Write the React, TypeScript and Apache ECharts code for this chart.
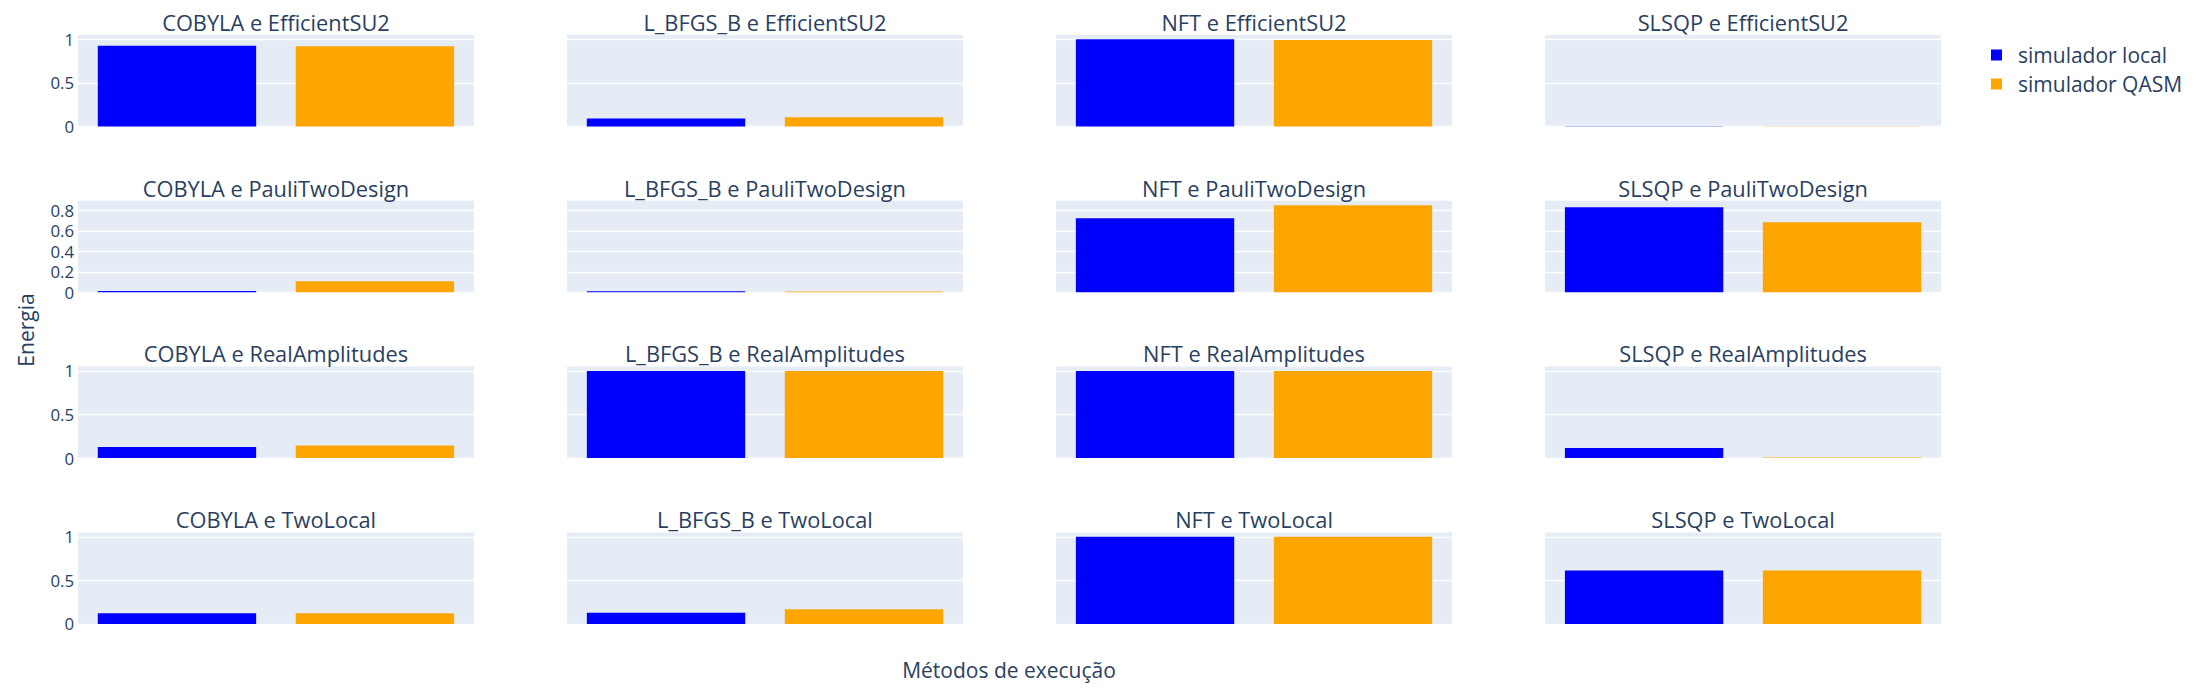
import React, { useEffect, useRef } from "react";
import * as echarts from "echarts";

// Subplot rows (ansatz) and columns (optimizer)
const optimizers = ["COBYLA", "L_BFGS_B", "NFT", "SLSQP"];
const ansatze = ["EfficientSU2", "PauliTwoDesign", "RealAmplitudes", "TwoLocal"];
const categories = ["simulador local", "simulador QASM"];

// Energy values, one entry per optimizer (COBYLA, L_BFGS_B, NFT, SLSQP)
const localEfficientSU2 = [0.927, 0.092, 1.0, 0.003];
const qasmEfficientSU2 = [0.92, 0.107, 0.992, 0.003];
const localPauliTwoDesign = [0.012, 0.01, 0.725, 0.832];
const qasmPauliTwoDesign = [0.107, 0.008, 0.852, 0.686];
const localRealAmplitudes = [0.127, 0.998, 0.998, 0.115];
const qasmRealAmplitudes = [0.143, 0.998, 0.998, 0.008];
const localTwoLocal = [0.122, 0.127, 1.0, 0.612];
const qasmTwoLocal = [0.122, 0.169, 1.0, 0.612];

const localRows = [localEfficientSU2, localPauliTwoDesign, localRealAmplitudes, localTwoLocal];
const qasmRows = [qasmEfficientSU2, qasmPauliTwoDesign, qasmRealAmplitudes, qasmTwoLocal];
const yTickInterval = [0.5, 0.2, 0.5, 0.5];

const FONT = '"Open Sans", verdana, arial, sans-serif';
const TXT = "#2a3f5f";
const BLUE = "#0000ff";
const ORANGE = "#FFA500";

export default function App() {
  const ref = useRef<HTMLDivElement>(null);
  useEffect(() => {
    if (!ref.current) return;
    const chart = echarts.init(ref.current, null, { renderer: "svg" });

    const plotLeft = 78;
    const plotW = 1863;
    const colW = plotW * 0.2125;
    const colStep = plotW * 0.2625;
    const plotTop = 35;
    const rowH = 91.5;
    const rowStep = 165.8;

    const grids: any[] = [];
    const xAxes: any[] = [];
    const yAxes: any[] = [];
    const series: any[] = [];
    const graphics: any[] = [];

    ansatze.forEach((ans, r) => {
      const rowMax = Math.max(...localRows[r], ...qasmRows[r]) * 1.05;
      optimizers.forEach((opt, c) => {
        const i = r * 4 + c;
        const left = plotLeft + c * colStep;
        const top = plotTop + r * rowStep;
        grids.push({
          left,
          top,
          width: colW,
          height: rowH,
          show: true,
          backgroundColor: "#E5ECF6",
          borderWidth: 0,
          containLabel: false,
          outerBoundsMode: "none",
        });
        xAxes.push({
          type: "category",
          gridIndex: i,
          data: categories,
          axisLabel: { show: false },
          axisTick: { show: false },
          axisLine: { show: false },
          splitLine: { show: false },
        });
        yAxes.push({
          type: "value",
          gridIndex: i,
          min: 0,
          max: rowMax,
          interval: yTickInterval[r],
          axisLabel: {
            show: c === 0,
            fontSize: 16.8,
            fontFamily: FONT,
            color: TXT,
            margin: 4,
            showMaxLabel: false,
            formatter: (v: number) => String(Math.round(v * 1000) / 1000),
          },
          axisTick: { show: false },
          axisLine: { show: false },
          splitLine: {
            show: true,
            showMaxLine: false,
            lineStyle: { color: "#ffffff", width: 1.4 },
          },
        });
        series.push({
          type: "bar",
          name: categories[0],
          xAxisIndex: i,
          yAxisIndex: i,
          stack: "s" + i,
          barCategoryGap: "20%",
          data: [localRows[r][c], "-"],
          itemStyle: { color: BLUE, borderWidth: 0 },
        });
        series.push({
          type: "bar",
          name: categories[1],
          xAxisIndex: i,
          yAxisIndex: i,
          stack: "s" + i,
          barCategoryGap: "20%",
          data: ["-", qasmRows[r][c]],
          itemStyle: { color: ORANGE, borderWidth: 0 },
        });
        graphics.push({
          type: "text",
          x: left + colW / 2,
          y: top - 12.7,
          style: {
            text: `${opt} e ${ans}`,
            fill: TXT,
            fontSize: 21.8,
            fontFamily: FONT,
            align: "center",
            verticalAlign: "middle",
          },
        });
      });
    });

    graphics.push({
      type: "text",
      x: 26,
      y: 330,
      rotation: Math.PI / 2,
      style: {
        text: "Energia",
        fill: TXT,
        fontSize: 21,
        fontFamily: FONT,
        align: "center",
        verticalAlign: "middle",
      },
    });
    graphics.push({
      type: "text",
      x: 1009,
      y: 669.5,
      style: {
        text: "Métodos de execução",
        fill: TXT,
        fontSize: 21,
        fontFamily: FONT,
        align: "center",
        verticalAlign: "middle",
      },
    });

    chart.setOption({
      animation: false,
      backgroundColor: "#ffffff",
      grid: grids,
      xAxis: xAxes,
      yAxis: yAxes,
      series,
      graphic: graphics,
      legend: {
        data: categories,
        orient: "vertical",
        left: 1991,
        top: 44.5,
        padding: 0,
        itemWidth: 11,
        itemHeight: 11,
        itemGap: 8,
        icon: "rect",
        selectedMode: false,
        textStyle: {
          fontSize: 21,
          fontFamily: FONT,
          color: TXT,
          padding: [0, 0, 0, 11],
        },
      },
    });
    return () => chart.dispose();
  }, []);
  return (
    <div
      ref={ref}
      style={{ position: "absolute", left: 0, top: 0, width: 2200, height: 700 }}
    />
  );
}
